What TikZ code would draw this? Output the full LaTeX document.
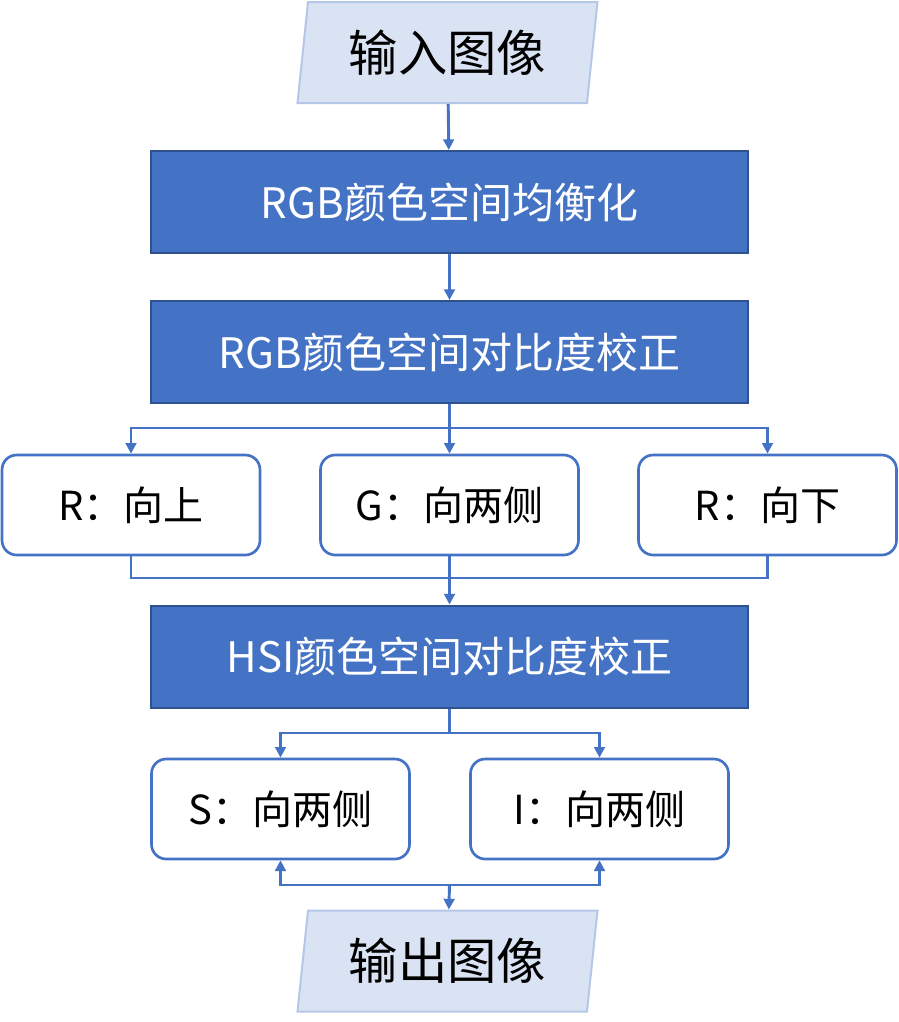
\documentclass[tikz,border=0pt]{standalone}
\usepackage{fontspec}
\setmainfont{Noto Sans CJK SC}
\usetikzlibrary{arrows.meta,shapes.geometric,calc}
\definecolor{mainblue}{HTML}{4472C4}
\definecolor{darkblue}{HTML}{2F528F}
\definecolor{iofill}{HTML}{DAE3F3}
\definecolor{ioline}{HTML}{B4C7E7}

\begin{document}
\begin{tikzpicture}[x=0.75pt,y=-0.75pt,line width=2pt,
  io/.style={draw=ioline,fill=iofill,line width=1.5pt,shape=trapezium,
    trapezium left angle=77,trapezium right angle=103,trapezium stretches body,
    minimum width=225pt,minimum height=75.75pt,inner sep=0pt,
    font=\fontsize{37}{40}\selectfont},
  proc/.style={draw=darkblue,fill=mainblue,text=white,line width=1.5pt,
    minimum width=447.75pt,minimum height=76.5pt,inner sep=0pt,
    font=\fontsize{31.5}{34}\selectfont},
  chan/.style={draw=mainblue,fill=white,rounded corners=11pt,line width=2pt,
    minimum width=193.5pt,minimum height=75pt,inner sep=0pt,
    font=\fontsize{30}{33}\selectfont},
  link/.style={draw=mainblue,line width=2.2pt},
  arr/.style={link,-{Triangle[length=8pt,width=8pt]}}]

      \useasboundingbox (0,0) rectangle (899,1022);

      \path (447.5,52.5) node[io]   (in)  {输入图像};
      \path (449.5,202)  node[proc] (eq)  {RGB颜色空间均衡化};
      \path (449.5,352)  node[proc] (rgb) {RGB颜色空间对比度校正};
      \path (131,505)    node[chan] (ru)  {R：向上};
      \path (449.5,505)  node[chan] (gs)  {G：向两侧};
      \path (767.5,505)  node[chan] (rd)  {R：向下};
      \path (449.5,656.5) node[proc] (hsi) {HSI颜色空间对比度校正};
      \path (280.5,809)  node[chan] (ss)  {S：向两侧};
      \path (599.5,809)  node[chan] (is)  {I：向两侧};
      \path (447.5,961)  node[io]   (out) {输出图像};

      \coordinate (split1) at (449.5,428);
      \coordinate (merge1) at (449.5,578);
      \coordinate (split2) at (449.5,733);
      \coordinate (merge2) at (449.5,885);

      \draw[arr]  (in)  -- (eq);
      \draw[arr]  (eq)  -- (rgb);
      \draw[link] (rgb) -- (split1);
      \draw[arr]  (split1) -| (ru);
      \draw[arr]  (split1) -| (rd);
      \draw[arr]  (split1) -- (gs);
      \draw[link] (ru) |- (merge1) -| (rd);
      \draw[arr]  (gs)  -- (hsi);
      \draw[link] (hsi) -- (split2);
      \draw[arr]  (split2) -| (ss);
      \draw[arr]  (split2) -| (is);
      \draw[arr]  (merge2) -| (ss);
      \draw[arr]  (merge2) -| (is);
      \draw[arr]  (merge2) -- (out);

    \end{tikzpicture}
\end{document}
